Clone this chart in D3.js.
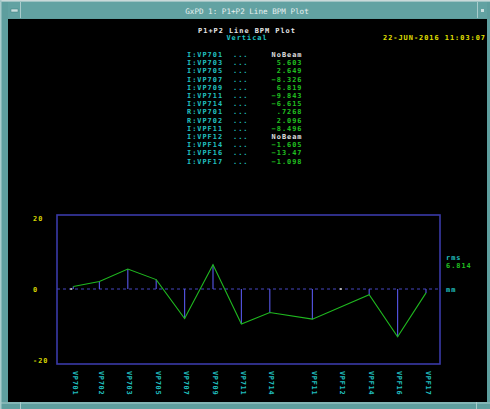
<!DOCTYPE html>
<html><head><meta charset="utf-8">
<script src="https://cdn.jsdelivr.net/npm/d3@7"></script>
<style>html,body{margin:0;padding:0;background:#5e9e9e;}svg{display:block;}</style>
</head><body>
<script>
// ---- data ----
const windowTitle = "GxPD 1: P1+P2 Line BPM Plot";
const plotTitle = "P1+P2 Line BPM Plot";
const plane = "Vertical";
const timestamp = "22-JUN-2016 11:03:07";
const tableNames = ["I:VP701","I:VP703","I:VP705","I:VP707","I:VP709","I:VP711","I:VP714","R:VP701","R:VP702","I:VPF11","I:VPF12","I:VPF14","I:VPF16","I:VPF17"];
const tableValues = [null,5.603,2.649,-8.326,6.819,-9.843,-6.615,0.7268,2.096,-8.496,null,-1.605,-13.47,-1.098];
const categories = ["VP701","VP702","VP703","VP705","VP707","VP709","VP711","VP714","VPF11","VPF12","VPF14","VPF16","VPF17"];
const positions = [0.08,1,2,3,4,5,6,7,8.5,9.5,10.5,11.5,12.5];
const plotValues = [0.7268,2.096,5.603,2.649,-8.326,6.819,-9.843,-6.615,-8.496,null,-1.605,-13.47,-1.098];
const noBeam = ["VP701","VPF12"];
const yTicks = [20,0,-20];
const rmsValue = 6.814;
const unitLabel = "mm";

// ---- drawing ----
const W = 490, H = 409;
const MONO = "'DejaVu Sans Mono', monospace";
const FS = 6.9, LS = 1.0;
const svg = d3.select("body").append("svg").attr("width", W).attr("height", H);

function txt(g, xx, yy, s, color, anchor) {
  return g.append("text").attr("x", xx).attr("y", yy)
    .attr("text-anchor", anchor || "start")
    .attr("font-family", MONO).attr("font-size", FS).attr("letter-spacing", LS)
    .attr("font-weight", "bold")
    .attr("fill", color).text(s);
}

// window frame
svg.append("rect").attr("x",0).attr("y",0).attr("width",W).attr("height",H).attr("fill","#5e9e9e");
svg.append("rect").attr("x",0).attr("y",0).attr("width",W).attr("height",2).attr("fill","#c9d9d9");
svg.append("rect").attr("x",0).attr("y",0).attr("width",1.5).attr("height",H).attr("fill","#a8cccc");
svg.append("rect").attr("x",8).attr("y",2).attr("width",479).attr("height",16).attr("fill","#62a2a2");
svg.append("line").attr("x1",20.5).attr("x2",20.5).attr("y1",2).attr("y2",18).attr("stroke","#a8cccc");
svg.append("line").attr("x1",477.5).attr("x2",477.5).attr("y1",2).attr("y2",18).attr("stroke","#a8cccc");
svg.append("rect").attr("x",11).attr("y",9).attr("width",7).attr("height",3).attr("fill","#c8dede").attr("stroke","#3f7f7f").attr("stroke-width",0.5);
svg.append("rect").attr("x",481).attr("y",9).attr("width",3).attr("height",3).attr("fill","#c8dede");
svg.append("line").attr("x1",0).attr("x2",W).attr("y1",1.5).attr("y2",1.5).attr("stroke","#9fc4c4");
svg.append("text").attr("x",247).attr("y",13.5).attr("text-anchor","middle")
  .attr("font-family",MONO).attr("font-size",7.6).attr("fill","#e6f0f0").text(windowTitle);

// black client area
svg.append("rect").attr("x",8).attr("y",19).attr("width",479).attr("height",383).attr("fill","#000");
svg.append("line").attr("x1",0).attr("x2",W).attr("y1",403).attr("y2",403).attr("stroke","#a8cccc");
svg.append("line").attr("x1",20.5).attr("x2",20.5).attr("y1",402).attr("y2",H).attr("stroke","#a8cccc");
svg.append("line").attr("x1",476.5).attr("x2",476.5).attr("y1",402).attr("y2",H).attr("stroke","#a8cccc");

// header
txt(svg, 247, 32.5, plotTitle, "#e8e8e8", "middle");
txt(svg, 247, 39.5, plane, "#20c8c8", "middle");
txt(svg, 486, 39.5, timestamp, "#e0e000", "end");

// readings table
const fmt = v => d3.format(".4r")(v).replace(/^(-?)0\./, "$1.");
const rowY = d3.scaleLinear().domain([0, tableNames.length - 1]).range([57, 163.5]);
tableNames.forEach((name, i) => {
  const yy = rowY(i);
  txt(svg, 187, yy, name, "#20c0c0");
  txt(svg, 233, yy, "...", "#20c0c0");
  const v = tableValues[i];
  txt(svg, 302.5, yy, v == null ? "NoBeam" : fmt(v), v == null ? "#e0e0e0" : "#20c020", "end");
});

// plot
const box = {left:57, right:440, top:215, bottom:364};
const x = d3.scaleLinear().domain([0, 12.5]).range([71, 426]);
const y = d3.scaleLinear().domain([-20, 20]).range([360, 218]);

svg.append("rect").attr("x",box.left).attr("y",box.top)
  .attr("width",box.right-box.left).attr("height",box.bottom-box.top)
  .attr("fill","none").attr("stroke","#3a3aa8").attr("stroke-width",1.6);

svg.append("line").attr("x1",box.left).attr("x2",box.right).attr("y1",y(0)).attr("y2",y(0))
  .attr("stroke","#4646c0").attr("stroke-width",1).attr("stroke-dasharray","3,3");

const pts = categories.map((c,i) => ({c, p: positions[i], v: plotValues[i]}));
const valid = pts.filter(d => d.v != null);

// stems
svg.append("g").selectAll("line").data(valid).join("line")
  .attr("x1", d => x(d.p)).attr("x2", d => x(d.p))
  .attr("y1", y(0)).attr("y2", d => y(d.v))
  .attr("stroke","#5050d8").attr("stroke-width",1.2);

// trace
svg.append("path").datum(valid)
  .attr("d", d3.line().x(d => x(d.p)).y(d => y(d.v)))
  .attr("fill","none").attr("stroke","#1fb81f").attr("stroke-width",1.1);

// no-beam markers
svg.append("g").selectAll("rect").data(pts.filter(d => noBeam.includes(d.c))).join("rect")
  .attr("x", d => x(d.p) - (d.c === "VP701" ? 3 : 1)).attr("y", y(0) - 1)
  .attr("width",2).attr("height",2).attr("fill","#b0b0b0");

// y tick labels
yTicks.forEach(t => txt(svg, 33, y(t) + 2.5, String(t), "#d8d800"));

// x labels (rotated)
svg.append("g").selectAll("text").data(pts).join("text")
  .attr("transform", d => `translate(${x(d.p) + 2},371) rotate(90)`)
  .attr("dy","0.35em")
  .attr("font-family",MONO).attr("font-size",FS).attr("letter-spacing",0.7)
  .attr("font-weight","bold")
  .attr("fill","#20c0c0").text(d => d.c);

// rms & units
txt(svg, 446, 259.5, "rms", "#20c0c0");
txt(svg, 446, 267.5, d3.format(".4r")(rmsValue), "#20c020");
txt(svg, 446, y(0) + 2.5, unitLabel, "#20c0c0");
</script>
</body></html>
